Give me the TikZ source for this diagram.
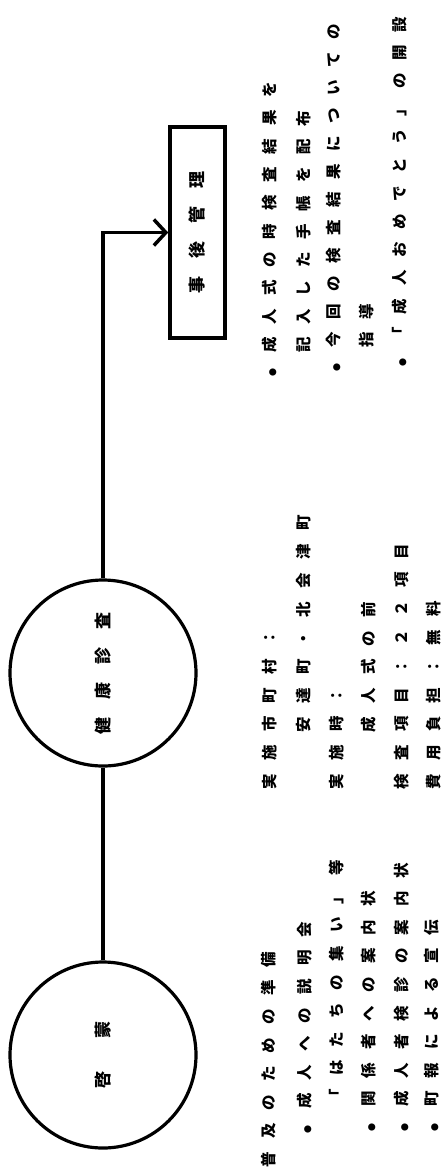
\documentclass[tikz,border=0pt]{standalone}
\usepackage{fontspec}
\newfontfamily\jp{Noto Sans CJK JP}
\usetikzlibrary{arrows.meta}
\makeatletter
\newcommand\spaced[2]{\@tfor\tk:=#2\do{\makebox[#1][c]{\tk}}}
\makeatother
\newcommand\bul{{\fontsize{8pt}{8pt}\selectfont ●}}
\begin{document}
\begin{tikzpicture}[x=1pt,y=1pt,
  txt/.style={rotate=90,anchor=west,inner sep=0pt,font=\jp\bfseries\fontsize{15.5pt}{15.5pt}\selectfont},
  lab/.style={rotate=90,inner sep=0pt,font=\jp\bfseries\fontsize{17pt}{17pt}\selectfont},
  stage/.style={circle,draw,line width=3.2pt,minimum size=186pt,inner sep=0pt},
  mgmt/.style={draw,line width=3.5pt,minimum width=55pt,minimum height=211pt,inner sep=0pt},
  conn/.style={line width=3.5pt}]
\useasboundingbox (0,0) rectangle (444,-1171);
% stages
\node[stage] (c1) at (103,-1055) {};
\node[stage] (c2) at (103,-673) {};
\node[mgmt] (box) at (197.5,-232.5) {};
\node[lab] (l1) at (c1) {\spaced{50pt}{啓蒙}};
\node[lab] (l2) at (c2) {\spaced{35pt}{健康診査}};
\node[lab] (l3) at (box) {\spaced{35pt}{事後管理}};
% connectors
\draw[conn] (c1) -- (c2);
\draw[conn,-{Straight Barb[length=12pt,width=26pt]}] (c2) |- (box);
% group A (pitch 28.6)
\node[txt] (a1) at (269,-1174.3) {\spaced{28.6pt}{普及のための準備}};
\node[txt] (a2) at (305,-1144.3) {\spaced{28.6pt}{\bul 成人への説明会}};
\node[txt] (a3) at (337,-1111.3) {\spaced{28.6pt}{「はたちの集い」等}};
\node[txt] (a4) at (369,-1142.3) {\spaced{28.6pt}{\bul 関係者への案内状}};
\node[txt] (a5) at (402,-1142.3) {\spaced{28.6pt}{\bul 成人者検診の案内状}};
\node[txt] (a6) at (432,-1142.3) {\spaced{28.6pt}{\bul 町報による宣伝}};
% group B (pitch 28.8)
\node[txt] (b1) at (270,-796.4) {\spaced{28.8pt}{実施市町村：}};
\node[txt] (b2) at (304,-739.4) {\spaced{28.8pt}{安達町・北会津町}};
\node[txt] (b3) at (337,-796.4) {\spaced{28.8pt}{実施時：}};
\node[txt] (b4) at (369,-739.4) {\spaced{28.8pt}{成人式の前}};
\node[txt] (b5) at (402,-796.4) {\spaced{28.8pt}{検査項目：２２項目}};
\node[txt] (b6) at (434,-796.4) {\spaced{28.8pt}{費用負担：無料}};
% group C
\node[txt] (d1) at (270,-387.2) {\spaced{28.3pt}{\bul 成人式の時検査結果を}};
\node[txt] (d2) at (304,-359.2) {\spaced{28.3pt}{記入した手帳を配布}};
\node[txt] (d3) at (334,-382) {\spaced{28pt}{\bul 今回の検査結果についての}};
\node[txt] (d4) at (367,-354.2) {\spaced{28.3pt}{指導}};
\node[txt] (d5) at (400,-377.1) {\spaced{28.2pt}{\bul 「成人おめでとう」の開設}};
\end{tikzpicture}
\end{document}
